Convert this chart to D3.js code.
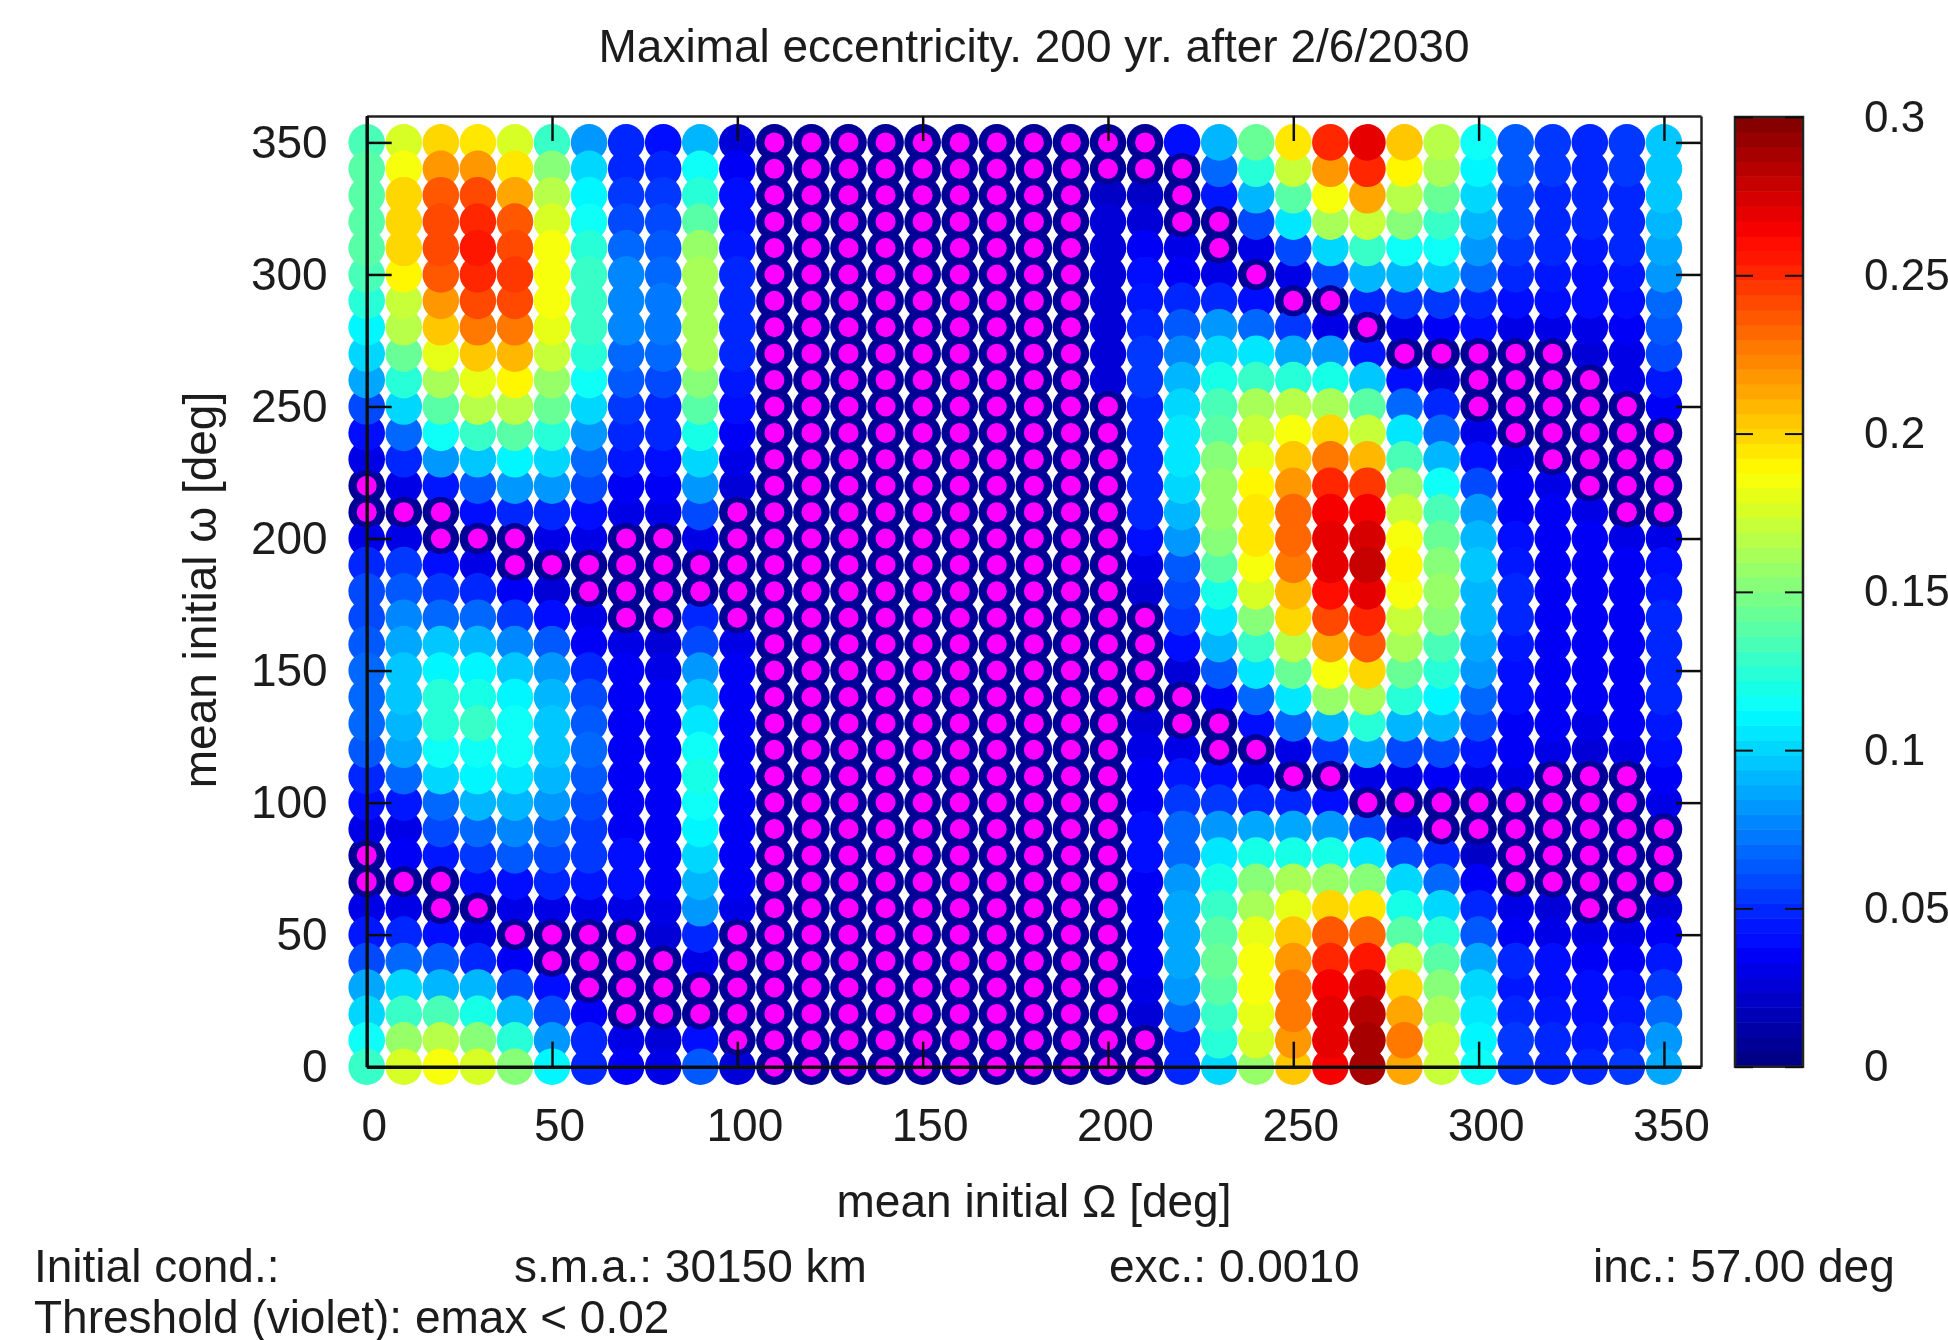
<!DOCTYPE html>
<html>
<head>
<meta charset="utf-8">
<script src="https://cdn.jsdelivr.net/npm/d3@7"></script>
<style>
    html, body { margin: 0; padding: 0; background: #fff; }
    svg { display: block; }
    text { font-family: "Liberation Sans", sans-serif; fill: #1a1a1a; }
</style>
</head>
<body>
<div id="chart"></div>
<script>
// Maximal eccentricity, in thousandths.
// One array per mean initial Omega, listed from omega = 350 down to omega = 0.
const om000 = [135,140,140,140,140,135,125,110,100,85,60,40,30,8,8,30,50,60, 60,65,70,70,70,65,50,40,30,8,8,30,45,60,85,100,115,130];
const om010 = [175,185,200,200,200,190,170,165,145,125,100,70,50,30,8,30,55,65, 75,85,95,95,90,85,70,45,30,35,8,30,50,70,100,130,155,175];
const om020 = [200,220,235,240,240,235,220,205,180,160,140,115,80,45,8,8,40,55, 70,95,110,122,125,115,100,70,60,45,8,8,40,65,90,135,165,185];
const om030 = [195,220,240,250,255,250,240,225,205,180,165,130,95,65,40,8,30,50, 70,90,110,120,127,115,110,90,70,55,40,8,30,50,90,120,150,175];
const om040 = [175,195,215,235,240,245,240,225,210,190,165,140,108,80,50,8,8,35, 55,75,95,108,113,113,105,90,75,65,40,30,8,35,60,90,125,150];
const om050 = [130,150,165,175,185,185,187,180,170,155,145,125,100,80,50,30,8,25, 40,65,80,90,95,95,90,80,70,60,50,30,8,8,40,60,80,110];
const om060 = [80,100,110,115,125,128,130,130,125,113,100,80,70,60,40,30,8,8, 30,35,50,60,65,70,65,60,55,55,45,30,8,8,8,35,50,50];
const om070 = [47,50,55,60,70,75,78,75,70,65,55,50,45,35,30,8,8,8, 8,30,35,35,35,35,35,35,35,40,38,30,8,8,8,8,30,35];
const om080 = [40,50,52,58,65,70,72,72,70,60,50,50,40,35,30,8,8,8, 8,28,30,33,36,36,36,36,35,35,35,30,25,8,8,8,25,30];
const om090 = [90,115,125,140,155,160,160,160,160,150,140,120,100,80,60,30,8,8, 50,60,80,95,105,115,118,115,110,100,90,80,50,30,8,8,40,65];
const om100 = [25,35,40,40,45,47,50,50,50,45,40,35,30,25,8,8,8,8, 8,30,35,35,35,37,37,37,37,37,35,30,8,8,8,8,8,25];
const om110 = [8,8,8,8,8,8,8,8,8,8,8,8,8,8,8,8,8,8, 8,8,8,8,8,8,8,8,8,8,8,8,8,8,8,8,8,8];
const om120 = [8,8,8,8,8,8,8,8,8,8,8,8,8,8,8,8,8,8, 8,8,8,8,8,8,8,8,8,8,8,8,8,8,8,8,8,8];
const om130 = [8,8,8,8,8,8,8,8,8,8,8,8,8,8,8,8,8,8, 8,8,8,8,8,8,8,8,8,8,8,8,8,8,8,8,8,8];
const om140 = [8,8,8,8,8,8,8,8,8,8,8,8,8,8,8,8,8,8, 8,8,8,8,8,8,8,8,8,8,8,8,8,8,8,8,8,8];
const om150 = [8,8,8,8,8,8,8,8,8,8,8,8,8,8,8,8,8,8, 8,8,8,8,8,8,8,8,8,8,8,8,8,8,8,8,8,8];
const om160 = [8,8,8,8,8,8,8,8,8,8,8,8,8,8,8,8,8,8, 8,8,8,8,8,8,8,8,8,8,8,8,8,8,8,8,8,8];
const om170 = [8,8,8,8,8,8,8,8,8,8,8,8,8,8,8,8,8,8, 8,8,8,8,8,8,8,8,8,8,8,8,8,8,8,8,8,8];
const om180 = [8,8,8,8,8,8,8,8,8,8,8,8,8,8,8,8,8,8, 8,8,8,8,8,8,8,8,8,8,8,8,8,8,8,8,8,8];
const om190 = [8,8,8,8,8,8,8,8,8,8,8,8,8,8,8,8,8,8, 8,8,8,8,8,8,8,8,8,8,8,8,8,8,8,8,8,8];
const om200 = [8,8,22,25,25,25,25,25,25,25,8,8,8,8,8,8,8,8, 8,8,8,8,8,8,8,8,8,8,8,8,8,8,8,8,8,8];
const om210 = [8,8,22,28,35,40,45,50,55,55,50,50,50,50,48,40,30,25, 8,8,8,8,25,32,36,37,38,38,37,37,35,35,30,28,8,8];
const om220 = [40,8,8,8,30,35,50,65,75,90,100,105,105,100,90,80,65,60, 55,40,28,8,8,30,45,55,70,70,80,85,85,85,80,70,50,50];
const om230 = [90,70,45,8,8,30,50,80,100,120,135,140,150,155,155,150,140,120, 105,90,65,35,8,8,40,55,80,105,120,130,140,145,140,130,125,100];
const om240 = [145,125,90,60,30,8,40,70,105,130,160,170,180,190,195,195,185,175, 150,130,105,70,40,8,30,50,85,120,150,160,180,185,185,180,175,155];
const om250 = [195,170,140,105,60,30,8,55,85,125,165,187,205,220,230,230,225,210, 200,165,145,105,70,30,8,50,85,120,160,180,205,220,225,225,220,205];
const om260 = [250,220,185,160,100,60,8,30,80,120,160,200,225,250,265,270,270,260, 240,215,185,155,90,55,8,40,80,120,155,200,235,250,265,270,268,265];
const om270 = [270,250,215,170,130,90,50,8,45,95,140,170,210,245,265,275,277,270, 250,235,200,160,125,85,30,8,60,105,150,195,230,255,275,285,290,290];
const om280 = [205,190,165,150,115,90,55,30,8,40,70,105,135,155,170,185,190,185, 170,160,145,125,90,60,30,8,25,60,100,120,140,170,200,215,225,215];
const om290 = [165,160,145,130,115,95,55,35,8,25,50,70,90,115,135,145,150,155, 150,135,125,110,90,60,35,8,8,50,70,100,125,140,150,160,170,170];
const om300 = [115,110,100,90,80,70,50,40,8,8,8,30,40,60,80,90,95,90, 90,85,80,70,60,45,30,8,8,22,35,50,65,85,100,105,110,115];
const om310 = [65,62,60,60,55,50,40,30,8,8,8,8,30,35,35,40,45,50, 50,45,42,38,37,35,30,8,8,8,8,30,35,50,45,50,52,55];
const om320 = [55,55,50,50,50,45,40,30,8,8,8,8,8,30,35,36,36,36, 36,36,36,36,35,30,8,8,8,8,8,28,32,38,42,45,47,50];
const om330 = [50,50,50,48,45,42,40,30,25,8,8,8,8,8,30,35,36,36, 36,36,36,35,30,28,8,8,8,8,8,8,30,35,40,42,45,50];
const om340 = [52,52,50,50,48,45,40,33,30,30,8,8,8,8,8,30,36,36, 36,36,36,35,33,30,8,8,8,8,8,8,30,36,40,45,50,55];
const om350 = [95,95,95,90,85,80,70,65,60,45,35,8,8,8,8,30,40,45, 50,50,50,50,45,40,35,30,8,8,8,25,35,45,55,70,80,85];

const emaxColumns = [om000, om010, om020, om030, om040, om050, om060, om070, om080, om090, om100, om110,
    om120, om130, om140, om150, om160, om170, om180, om190, om200, om210, om220, om230,
    om240, om250, om260, om270, om280, om290, om300, om310, om320, om330, om340, om350];

const omegaLabels = [0, 50, 100, 150, 200, 250, 300, 350];
const colorbarLabels = [0, 0.05, 0.1, 0.15, 0.2, 0.25, 0.3];
const violetThreshold = 0.02;

function drawChart() {
    let svg = d3.select("#chart").append("svg")
        .attr("width", 1948)
        .attr("height", 1340);

    // The reference is a slightly soft upscaled bitmap
    svg.append("defs").append("filter")
        .attr("id", "soft")
        .append("feGaussianBlur")
        .attr("stdDeviation", 0.7);

    let root = svg.append("g").attr("filter", "url(#soft)");

    /* Scales */
    let x = d3.scaleLinear().domain([0, 360]).range([366.7, 1701]);
    let y = d3.scaleLinear().domain([0, 360]).range([1066.7, 116]);
    let barY = d3.scaleLinear().domain([0, 0.3]).range([1066.7, 117]);

    // jet palette in 64 flat bands, as in the colour box
    let jet = d3.scaleLinear()
        .domain([0, 0.0375, 0.1125, 0.1875, 0.2625, 0.3])
        .range(["#00007f", "#0000ff", "#00ffff", "#ffff00", "#ff0000", "#7f0000"])
        .clamp(true);
    let levels = d3.range(64).map(i => (i + 0.5) * 0.3 / 64);
    let color = d3.scaleQuantize().domain([0, 0.3]).range(levels.map(jet));

    /* Points */
    let points = [];
    emaxColumns.forEach((column, i) => {
        column.forEach((v, j) => {
            points.push({ node: i * 10, peri: 350 - j * 10, emax: v / 1000 });
        });
    });

    root.append("g").selectAll("circle")
        .data(points.slice().sort((a, b) => a.emax - b.emax))
        .enter()
        .append("circle")
        .attr("cx", d => x(d.node))
        .attr("cy", d => y(d.peri))
        .attr("r", 18.3)
        .attr("fill", d => color(d.emax));

    // Below threshold: second pass with a dark ring and a violet dot
    let low = points.filter(d => d.emax < violetThreshold);
    root.append("g").selectAll("circle")
        .data(low)
        .enter()
        .append("circle")
        .attr("cx", d => x(d.node))
        .attr("cy", d => y(d.peri))
        .attr("r", 15.5)
        .attr("fill", d => color(d.emax));
    root.append("g").selectAll("circle")
        .data(low)
        .enter()
        .append("circle")
        .attr("cx", d => x(d.node))
        .attr("cy", d => y(d.peri))
        .attr("r", 10)
        .attr("fill", "#ff00ff");

    /* Axes */
    let tick = 25;
    let bottom = root.append("g").attr("transform", `translate(0, ${y(0)})`)
        .call(d3.axisBottom(x).tickValues(omegaLabels).tickSizeInner(-tick).tickSizeOuter(0).tickPadding(42));
    let left = root.append("g").attr("transform", `translate(${x(0)}, 0)`)
        .call(d3.axisLeft(y).tickValues(omegaLabels).tickSizeInner(-tick).tickSizeOuter(0).tickPadding(39));
    let top = root.append("g").attr("transform", `translate(0, ${y(360)})`)
        .call(d3.axisTop(x).tickValues(omegaLabels).tickSizeInner(-tick).tickSizeOuter(0).tickFormat(""));
    let right = root.append("g").attr("transform", `translate(${x(360)}, 0)`)
        .call(d3.axisRight(y).tickValues(omegaLabels).tickSizeInner(-tick).tickSizeOuter(0).tickFormat(""));

    [bottom, left, top, right].forEach(a => {
        a.selectAll("line").attr("stroke", "#111").attr("stroke-width", 2.5);
        a.selectAll("text").attr("font-size", 46).attr("fill", "#1a1a1a");
    });
    bottom.select(".domain").attr("stroke", "#111").attr("stroke-width", 3.5);
    left.select(".domain").attr("stroke", "#111").attr("stroke-width", 3.5);
    top.select(".domain").attr("stroke", "#222").attr("stroke-width", 2.5);
    right.select(".domain").attr("stroke", "#222").attr("stroke-width", 2.5);
    bottom.selectAll("text").attr("dx", 7);

    /* Colour box */
    let barX = 1735, barW = 68;
    root.append("g").selectAll("rect")
        .data(levels)
        .enter()
        .append("rect")
        .attr("x", barX)
        .attr("width", barW)
        .attr("y", d => barY(d + 0.15 / 64))
        .attr("height", barY(0) - barY(0.3 / 64) + 0.5)
        .attr("fill", d => jet(d));
    root.append("rect")
        .attr("x", barX).attr("y", barY(0.3))
        .attr("width", barW).attr("height", barY(0) - barY(0.3))
        .attr("fill", "none").attr("stroke", "#222").attr("stroke-width", 2.5);

    let barAxis = root.append("g").attr("transform", `translate(${barX + barW}, 0)`)
        .call(d3.axisRight(barY).tickValues(colorbarLabels).tickSizeInner(-18).tickSizeOuter(0)
            .tickPadding(61).tickFormat(d => d));
    barAxis.select(".domain").remove();
    barAxis.selectAll("line").attr("stroke", "#111").attr("stroke-width", 2);
    barAxis.selectAll("text").attr("font-size", 44).attr("fill", "#1a1a1a");
    root.append("g").attr("transform", `translate(${barX}, 0)`)
        .call(d3.axisLeft(barY).tickValues(colorbarLabels).tickSizeInner(-18).tickSizeOuter(0).tickFormat(""))
        .call(g => g.select(".domain").remove())
        .selectAll("line").attr("stroke", "#111").attr("stroke-width", 2);

    /* Titles and notes */
    let label = (txt, px, py, anchor = "start") => root.append("text")
        .attr("x", px).attr("y", py)
        .attr("text-anchor", anchor)
        .attr("font-size", 46)
        .text(txt);

    label("Maximal eccentricity. 200 yr. after 2/6/2030", 1034, 62, "middle");
    label("mean initial \u03a9 [deg]", 1034, 1217, "middle");
    label("mean initial \u03c9 [deg]", 0, 0, "middle")
        .attr("transform", "translate(216, 590) rotate(-90)");
    label("Initial cond.:", 34, 1282);
    label("s.m.a.: 30150 km", 514, 1282);
    label("exc.: 0.0010", 1109, 1282);
    label("inc.: 57.00 deg", 1593, 1282);
    label("Threshold (violet): emax < 0.02", 34, 1333);
}

drawChart();
</script>
</body>
</html>
